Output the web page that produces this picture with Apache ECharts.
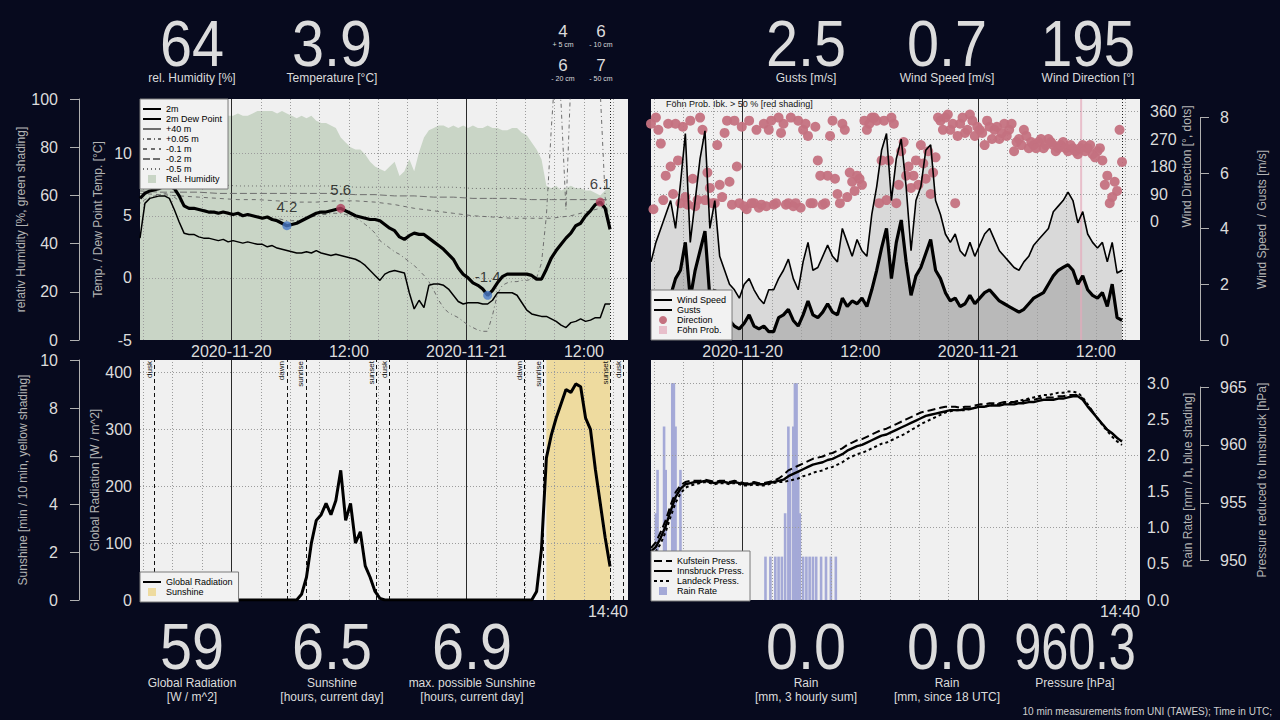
<!DOCTYPE html>
<html>
<head>
<meta charset="utf-8">
<title>Station UNI</title>
<script src="https://cdn.jsdelivr.net/npm/echarts@6.0.0/dist/echarts.min.js"></script>
<style>
html,body{margin:0;padding:0;background:#070a1e;overflow:hidden;}
#chart{width:1280px;height:720px;}
</style>
</head>
<body>
<div id="chart"></div>
<script>
// ---------------- DATA (30 min steps from 2020-11-19 14:40 UTC) ----------------
const startTime = Date.UTC(2020, 10, 19, 14, 40);
const stepMinutes = 30;
const soilStepMinutes = 120;

const temp2m = [6.4,6.8,7.0,7.1,7.2,7.4,7.4,7.2,6.6,5.8,
 5.6,5.6,5.5,5.4,5.3,5.3,5.2,5.3,5.2,5.1,
 5.2,5.0,5.1,5.0,4.9,4.8,4.9,4.7,4.6,4.4,
 4.2,4.3,4.4,4.6,4.8,5.0,5.2,5.3,5.3,5.4,
 5.5,5.6,5.4,5.2,5.0,4.9,4.8,4.7,4.7,4.6,
 4.3,4.0,3.8,3.3,3.1,3.4,3.6,3.5,3.5,3.2,
 2.9,2.6,2.3,1.9,1.5,0.8,0.3,0.0,-0.4,-0.6,
 -0.9,-1.4,-1.0,-0.4,0.1,0.3,0.3,0.3,0.3,0.3,
 0.2,-0.1,-0.1,0.7,1.6,2.2,2.7,3.2,3.6,4.2,
 4.4,5.0,5.4,5.9,6.1,5.6,3.9];

const dewPoint = [3.2,6.0,6.4,6.5,6.6,6.6,6.4,5.5,4.5,3.6,
 3.5,3.5,3.3,3.2,3.2,3.1,3.0,3.1,2.9,3.0,
 2.9,2.8,2.9,2.8,2.7,2.7,2.5,2.6,2.4,2.3,
 2.2,2.1,2.0,2.0,2.1,2.0,2.2,2.0,1.9,1.8,
 1.9,1.8,1.7,1.6,1.5,1.3,1.0,0.6,0.2,-0.2,
 0.3,0.5,0.6,0.5,0.4,-1.2,-2.5,-1.8,-2.4,-0.6,
 -0.5,-0.5,-0.6,-0.9,-1.4,-1.9,-2.1,-2.0,-2.0,-2.0,
 -2.1,-2.1,-1.8,-1.2,-1.2,-1.2,-1.2,-1.4,-2.0,-2.6,
 -2.9,-3.0,-3.1,-3.1,-3.3,-3.5,-3.8,-4.0,-3.6,-3.5,
 -3.3,-3.5,-3.4,-3.2,-3.2,-2.1,-2.1];

const relHumidity = [91,92,92,93,93,93,94,94,93,93,
 94,93,94,93,94,93,93,92,93,93,
 94,93,93,94,95,95,95,95,94,95,
 94,93,92,93,92,93,91,90,90,89,
 88,84,82,80,79,79,77,74,72,71,
 70,72,74,68,70,75,70,78,84,87,
 88,89,89,88,89,88,89,88,89,88,
 88,89,88,88,87,87,88,88,86,85,
 82,79,75,64,63,64,62,63,64,63,
 63,62,62,61,60,62,64];

const tempPlus40m = [];

const tempPlus005m = [6.0,6.3,6.5,6.6,6.7,6.8,6.7,6.5,6.2,5.9,
 5.7,5.6,5.5,5.5,5.4,5.4,5.3,5.3,5.3,5.2,
 5.2,5.1,5.1,5.0,5.0,4.9,4.9,4.8,4.8,4.7,
 4.6,4.6,4.6,4.7,4.8,4.9,5.0,5.1,5.1,5.2,
 5.2,5.2,5.1,5.0,4.8,4.6,4.3,4.0,3.6,3.0,
 2.7,2.4,2.1,1.9,1.6,1.3,1.0,0.6,0.2,-0.3,
 -1.0,-1.8,-2.4,-2.8,-3.0,-3.2,-3.5,-3.8,-4.0,-4.2,
 -4.3,-4.3,-3.0,-1.3,-0.6,-0.4,-0.3,-0.3,-0.2,-0.2,
 -0.1,0.0,1.2,5.0,12.0,18.0,14.0,5.5,16.0,19.0,
 20.0,20.0,19.0,18.0,15.0,6.5,4.2];

// soil temperatures, 2 hourly
const soilMinus010 = [6.8,6.7,6.6,6.5,6.4,6.3,6.3,6.2,6.1,6.1,6.2,6.2,6.1,5.9,5.6,5.4,5.2,5.0,4.9,4.8,4.8,4.8,5.0,5.4,5.8];
const soilMinus020 = [7.0,6.9,6.9,6.9,6.8,6.8,6.8,6.8,6.8,6.8,6.8,6.7,6.7,6.6,6.6,6.5,6.5,6.4,6.4,6.4,6.3,6.3,6.3,6.3,6.3];
const soilMinus050 = [7.5,7.5,7.5,7.5,7.5,7.4,7.4,7.4,7.4,7.4,7.4,7.3,7.3,7.3,7.3,7.3,7.3,7.2,7.2,7.2,7.2,7.2,7.2,7.2,7.2];

const windSpeed = [1.4,1.3,1.2,1.4,1.6,2.2,2.5,3.5,1.5,2.5,
 3.2,3.9,1.5,1.8,1.1,0.9,0.7,0.5,0.4,0.6,
 0.9,0.5,0.4,0.5,0.3,0.3,0.8,0.9,1.1,0.7,
 0.5,0.9,1.4,0.9,0.8,1.0,1.3,1.0,0.9,1.5,
 1.2,1.4,1.3,1.5,1.2,1.8,2.5,3.3,4.0,2.2,
 3.5,4.3,2.8,1.6,2.3,2.6,3.1,3.6,2.5,2.2,
 1.7,1.4,1.5,1.2,1.3,1.6,1.3,1.5,1.7,1.8,
 1.6,1.4,1.3,1.2,1.1,1.0,1.1,1.3,1.5,1.6,
 1.7,2.0,2.3,2.5,2.6,2.7,2.5,2.0,2.3,1.8,
 1.6,1.5,1.7,1.2,2.0,0.8,0.7];

const windGusts = [2.8,3.5,4.0,4.5,5.0,4.0,5.6,7.4,3.5,5.0,
 6.5,7.5,4.0,5.0,3.0,2.5,2.0,1.8,1.5,2.0,
 2.2,1.8,1.5,1.3,1.8,1.8,2.2,2.5,2.9,2.2,
 1.8,2.8,3.5,2.5,2.6,3.0,3.4,3.0,2.8,4.0,
 3.5,3.0,3.6,3.2,3.0,4.5,5.5,6.8,7.4,5.0,
 6.5,7.2,5.5,3.2,5.0,5.5,6.8,7.0,5.0,4.5,
 3.8,3.5,3.8,3.2,3.0,3.5,3.0,3.4,3.8,4.0,
 3.6,3.2,3.0,2.8,2.6,2.5,2.8,3.0,3.4,3.6,
 3.8,4.0,4.6,4.8,5.0,5.3,5.0,4.2,4.6,3.8,
 3.5,3.3,3.5,2.8,3.5,2.4,2.5];

// wind direction at the full steps and at the steps shifted by 15 min
const windDirection = [320,340,255,150,180,320,60,80,330,50,
 340,70,110,60,120,290,130,330,60,50,
 330,60,45,320,300,55,340,320,60,50,
 330,300,280,60,200,55,150,330,90,320,
 80,130,150,120,300,340,330,200,70,340,
 60,230,150,110,200,250,140,90,210,330,
 340,300,60,320,290,350,280,300,250,310,
 300,270,320,300,230,270,300,240,250,260,
 240,270,250,240,260,230,240,220,250,240,
 220,230,200,150,80,100,195];
const windDirectionMid = [40,300,70,320,90,200,310,55,140,70,
 300,160,60,250,80,330,55,180,310,40,
 60,300,55,50,330,60,290,55,340,60,
 45,320,60,310,150,60,280,140,60,300,
 160,100,140,330,320,340,60,330,200,320,
 120,260,180,150,120,190,230,160,340,300,
 350,320,280,340,300,330,310,290,330,270,
 310,290,280,320,260,250,280,260,240,270,
 250,260,230,250,240,250,230,240,230,250,
 210,240,120,60,130,300];

const foehnTimes = ['2020-11-21T10:30Z'];
const foehnProb = [0.62];

const globalRadiation = [0,0,0,0,0,0,0,0,0,0,
 0,0,0,0,0,0,0,0,0,0,
 0,0,0,0,0,0,0,0,0,0,
 0,0,0,10,40,100,140,150,170,150,
 175,228,140,170,100,120,60,40,15,3,
 0,0,0,0,0,0,0,0,0,0,
 0,0,0,0,0,0,0,0,0,0,
 0,0,0,0,0,0,0,0,0,0,
 0,15,90,250,290,320,345,370,365,380,
 375,320,300,230,170,110,59];

const sunshine = [0,0,0,0,0,0,0,0,0,0,
 0,0,0,0,0,0,0,0,0,0,
 0,0,0,0,0,0,0,0,0,0,
 0,0,0,0,0,0,0,0,0,0,
 0,0,0,0,0,0,0,0,0,0,
 0,0,0,0,0,0,0,0,0,0,
 0,0,0,0,0,0,0,0,0,0,
 0,0,0,0,0,0,0,0,0,0,
 0,0,0,10,10,10,10,10,10,10,
 10,10,10,10,10,10,10];

const sunEventNames = ['dusk','dawn','sunrise','sunset','dusk','dawn','sunrise','sunset','dusk'];
const sunEventTimes = ['2020-11-19T16:06Z','2020-11-20T05:40Z','2020-11-20T07:37Z','2020-11-20T14:46Z','2020-11-20T16:06Z',
 '2020-11-21T05:53Z','2020-11-21T07:50Z','2020-11-21T14:42Z','2020-11-21T16:00Z'];

const rainTimes = ['2020-11-19T15:10Z','2020-11-19T15:20Z','2020-11-19T16:00Z','2020-11-19T16:10Z','2020-11-19T16:50Z',
 '2020-11-19T17:00Z','2020-11-19T17:10Z','2020-11-19T17:40Z','2020-11-19T17:50Z','2020-11-20T00:30Z',
 '2020-11-20T02:20Z','2020-11-20T02:50Z','2020-11-20T03:20Z','2020-11-20T03:40Z','2020-11-20T04:00Z',
 '2020-11-20T04:20Z','2020-11-20T04:40Z','2020-11-20T04:50Z','2020-11-20T05:10Z','2020-11-20T05:20Z',
 '2020-11-20T05:30Z','2020-11-20T05:40Z','2020-11-20T05:50Z','2020-11-20T06:10Z','2020-11-20T06:30Z',
 '2020-11-20T06:50Z','2020-11-20T07:10Z','2020-11-20T07:30Z','2020-11-20T08:00Z','2020-11-20T08:30Z',
 '2020-11-20T09:00Z','2020-11-20T09:30Z'];
const rainRate = [1.2,1.8,2.4,1.8,3.0, 3.0,2.4,1.8,0.6,0.6,
 0.6,0.6,0.6,0.6,0.6, 1.2,2.4,1.8,2.4,3.0,
 3.0,1.8,1.2,0.6,0.6, 0.6,0.6,0.6,0.6,0.6,
 0.6,0.6];

const pressInnsbruck = [950.8,951.2,952.0,953.0,954.3,955.5,956.2,956.6,956.7,956.8,956.8,
 956.9,956.8,956.7,956.8,956.8,956.7,956.8,956.7,956.6,956.6,956.7,956.6,956.6,956.7,956.8,956.9,
 957.0,957.3,957.5,957.7,957.9,958.1,958.3,958.4,958.5,958.7,958.8,959.0,959.2,959.5,959.7,959.9,
 960.0,960.2,960.4,960.6,960.8,960.9,961.1,961.3,961.5,961.7,961.9,962.1,962.3,962.5,962.6,962.7,962.8,962.9,
 963.0,963.0,963.0,963.1,963.1,963.2,963.3,963.3,963.4,963.4,963.4,963.5,963.5,963.5,963.6,963.6,963.7,963.7,963.8,963.9,963.9,963.9,
 964.0,964.0,964.1,964.2,964.2,963.9,963.3,962.8,962.3,961.8,961.3,961.0,960.6,960.3];
const pressKufstein = [951.1,951.6,952.5,953.5,954.8,955.9,956.5,956.8,956.9,956.9,956.9,
 957.0,956.9,956.8,956.9,956.9,956.8,956.9,956.8,956.7,956.7,956.8,956.7,956.7,956.8,956.9,957.1,
 957.4,957.8,958.0,958.2,958.4,958.6,958.8,958.9,959.0,959.2,959.3,959.5,959.7,960.0,960.2,960.4,
 960.5,960.7,960.9,961.1,961.3,961.4,961.6,961.8,962.0,962.2,962.4,962.6,962.8,962.9,963.0,963.1,963.2,963.3,
 963.3,963.3,963.2,963.3,963.3,963.4,963.5,963.5,963.6,963.6,963.6,963.7,963.7,963.7,963.8,963.8,963.9,963.9,964.0,964.1,964.1,964.1,
 964.2,964.2,964.3,964.3,964.3,964.0,963.4,962.9,962.3,961.8,961.3,961.0,960.6,960.4];
const pressLandeck = [950.4,950.8,951.5,952.5,953.8,955.0,955.8,956.3,956.5,956.6,956.7,
 956.8,956.7,956.6,956.7,956.7,956.6,956.7,956.6,956.5,956.5,956.6,956.5,956.5,956.6,956.7,956.8,
 956.8,956.9,957.0,957.1,957.3,957.4,957.6,957.7,957.8,958.0,958.1,958.3,958.5,958.8,959.0,959.2,
 959.3,959.5,959.7,959.9,960.1,960.2,960.4,960.6,960.8,961.0,961.3,961.5,961.8,962.0,962.2,962.4,962.6,962.8,
 962.9,963.0,963.0,963.0,963.1,963.2,963.3,963.3,963.4,963.5,963.5,963.6,963.6,963.7,963.8,963.9,964.0,964.1,964.2,964.3,964.3,964.4,
 964.5,964.5,964.6,964.6,964.5,964.1,963.5,962.9,962.3,961.7,961.2,960.7,960.3,960.0];

// windows for the marked night minimum / day maximum of 2 m temperature
const extremeFrom = ['2020-11-19T18:00Z','2020-11-20T06:00Z','2020-11-20T18:00Z','2020-11-21T06:00Z'];
const extremeTo   = ['2020-11-20T06:00Z','2020-11-20T18:00Z','2020-11-21T06:00Z','2020-11-21T18:00Z'];
const extremeKind = ['min','max','min','max'];

// header values: [value, label, centre x, horizontal squeeze]
const headerTop = [['64','rel. Humidity [%]',192,0.9],['3.9','Temperature [°C]',332,0.9],['2.5','Gusts [m/s]',806,0.9],['0.7','Wind Speed [m/s]',947,0.9],['195','Wind Direction [°]',1088,0.88]];
// soil: [value, depth label, centre x, centre y of value]
const soilHeader = [['4','+ 5 cm',563,31],['6','- 10 cm',601,31],['6','- 20 cm',563,65],['7','- 50 cm',601,65]];
const headerBottom = [['59','Global Radiation','[W / m^2]',192,0.9],['6.5','Sunshine','[hours, current day]',332,0.9],['6.9','max. possible Sunshine','[hours, current day]',472,0.9],
 ['0.0','Rain','[mm, 3 hourly sum]',806,0.9],['0.0','Rain','[mm, since 18 UTC]',947,0.9],['960.3','Pressure [hPa]','',1075,0.76]];

// ---------------- HELPERS ----------------
const xMin = Date.UTC(2020, 10, 19, 14, 40);
const xMax = Date.UTC(2020, 10, 21, 16, 30);
const nowTime = Date.UTC(2020, 10, 21, 14, 40);
const tAt = i => startTime + i * stepMinutes * 60000;
const soilAt = i => startTime + i * soilStepMinutes * 60000;
const pairs = arr => arr.map((v, i) => [tAt(i), v]);
const midPairs = arr => arr.map((v, i) => [tAt(i + 0.5), v]);
const soilPairs = arr => arr.map((v, i) => [soilAt(i), v]);

const gridTimes = [];
for (let t = Date.UTC(2020,10,19,15); t < xMax; t += 3*3600000) gridTimes.push(t);
const midnights = [Date.UTC(2020,10,20), Date.UTC(2020,10,21)];
const labelTimes = [Date.UTC(2020,10,20,0), Date.UTC(2020,10,20,12), Date.UTC(2020,10,21,0), Date.UTC(2020,10,21,12)];

const FONT = "'Liberation Sans', Arial, Helvetica, sans-serif";
const LIGHT = '#dcdcdc';
const NAMEC = '#b4b4b4';
const AXC = '#b0b0b0';
const PLOTBG = '#f0f0f0';

function fmtTime(v) {
  const d = new Date(v);
  const hh = d.getUTCHours(), mm = d.getUTCMinutes();
  if (hh === 0 && mm === 0) return d.toISOString().slice(0, 10);
  return String(hh).padStart(2, '0') + ':' + String(mm).padStart(2, '0');
}

function xAx(gi, showLabels, hidden) {
  return {
    type: 'value', gridIndex: gi, min: xMin, max: xMax, show: !hidden,
    axisLine: {show: false}, axisTick: {show: false}, splitLine: {show: false},
    axisLabel: {show: showLabels, customValues: labelTimes, formatter: fmtTime, color: LIGHT, fontSize: 16, margin: 3, fontFamily: FONT}
  };
}

function gridLineSeries(xi, yi, withEvents, withNow) {
  const lines = [];
  gridTimes.forEach(t => {
    if (midnights.indexOf(t) < 0) lines.push({xAxis: t, lineStyle: {color: '#9c9c9c', type: [1, 2], width: 1}});
  });
  midnights.forEach(t => lines.push({xAxis: t, lineStyle: {color: '#2a2a2a', type: 'solid', width: 1}}));
  if (withNow) lines.push({xAxis: nowTime, lineStyle: {color: '#222', type: [1, 2], width: 1}});
  if (withEvents) {
    sunEventTimes.forEach((s, k) => lines.push({
      name: sunEventNames[k], xAxis: Date.parse(s),
      lineStyle: {color: '#111', type: [4, 3], width: 1},
      label: {show: true, formatter: '{b}', position: 'insideEndTop', fontSize: 8, color: '#111', distance: 1, fontFamily: FONT}
    }));
  }
  return {
    type: 'line', xAxisIndex: xi, yAxisIndex: yi, data: [], silent: true, z: 1.5,
    markLine: {symbol: ['none', 'none'], silent: true, animation: false, z: 1.5, label: {show: false}, data: lines}
  };
}

// extremes of 2 m temperature
const extremePoints = [];
extremeFrom.forEach((f, k) => {
  const a = Date.parse(f), b = Date.parse(extremeTo[k]);
  let best = -1;
  temp2m.forEach((v, i) => {
    const t = tAt(i);
    if (t < a || t >= b) return;
    if (best < 0 || (extremeKind[k] === 'min' ? v < temp2m[best] : v > temp2m[best])) best = i;
  });
  if (best >= 0) extremePoints.push({
    value: [tAt(best), temp2m[best]],
    itemStyle: {color: extremeKind[k] === 'min' ? '#4a7bc8' : '#b2405e'}
  });
});

const foehnData = foehnTimes.map((s, k) => [Date.parse(s), foehnProb[k] > 0.5 ? 1 : 0]);
const rainData = rainTimes.map((s, k) => [Date.parse(s), rainRate[k]]);
const SQUARE = 'path://M0,0L10,0L10,10L0,10Z';
const solidIcon = name => ({name: name, icon: SQUARE, itemStyle: {opacity: 1}});

function legendBox(left, top, names) {
  return {
    left: left, top: top, orient: 'vertical', selectedMode: false, data: names,
    itemWidth: 18, itemHeight: 8, itemGap: 0,
    itemStyle: {opacity: 0},
    textStyle: {fontSize: 9, color: '#000', lineHeight: 10, fontFamily: FONT},
    backgroundColor: '#f2f2f2', borderColor: '#7a7a7a', borderWidth: 1, borderRadius: 0,
    padding: [5, 6, 5, 2]
  };
}

// ---------------- GRAPHICS (header / footer texts) ----------------
const graphics = [];
function txt(x, y, text, size, color, align, family, sx) {
  graphics.push({type: 'text', x: x, y: y, silent: true, scaleX: sx || 1,
    style: {text: text, fill: color, fontSize: size, fontFamily: family || FONT, textAlign: align || 'center', textVerticalAlign: 'middle'}});
}
headerTop.forEach(h => { txt(h[2], 44, h[0], 64, LIGHT, 'center', FONT, h[3]); txt(h[2], 78, h[1], 12, LIGHT); });
soilHeader.forEach(h => { txt(h[2], h[3], h[0], 17, LIGHT); txt(h[2], h[3] + 13.5, h[1], 7, LIGHT); });
headerBottom.forEach(h => { txt(h[3], 647, h[0], 64, LIGHT, 'center', FONT, h[4]); txt(h[3], 683, h[1], 12, LIGHT); if (h[2]) txt(h[3], 697, h[2], 12, LIGHT); });
txt(628, 611, fmtTime(nowTime), 16, LIGHT, 'right');
txt(1140, 611, fmtTime(nowTime), 16, LIGHT, 'right');
txt(1272, 711, '10 min measurements from UNI (TAWES); Time in UTC;', 10, '#cfcfcf', 'right');
txt(666, 104, 'Föhn Prob. Ibk. > 50 % [red shading]', 9, '#111', 'left');

// ---------------- OPTION ----------------
const nameStyle = {color: NAMEC, fontSize: 12, fontFamily: FONT};
const labStyle = (m, extra) => Object.assign({color: LIGHT, fontSize: 16, fontFamily: FONT, margin: m}, extra || {});
const dotted = {lineStyle: {color: '#9c9c9c', type: [1, 2], width: 1}};

const option = {
  animation: false,
  backgroundColor: '#070a1e',
  textStyle: {fontFamily: FONT},
  grid: [
    {left: 140, top: 99, width: 488, height: 241, show: true, backgroundColor: PLOTBG, borderWidth: 0},
    {left: 651, top: 99, width: 489, height: 241, show: true, backgroundColor: PLOTBG, borderWidth: 0},
    {left: 140, top: 360, width: 488, height: 240, show: true, backgroundColor: PLOTBG, borderWidth: 0},
    {left: 651, top: 360, width: 489, height: 240, show: true, backgroundColor: PLOTBG, borderWidth: 0},
    {left: 651, top: 117.4, width: 489, height: 222.6, show: false},
    {left: 651, top: 387, width: 489, height: 173.7, show: false},
    {left: 651, top: 111.5, width: 489, height: 110, show: false}
  ],
  xAxis: [xAx(0, true), xAx(1, true), xAx(2, false), xAx(3, false), xAx(4, false, true), xAx(5, false, true), xAx(6, false, true)],
  yAxis: [
    {type: 'value', gridIndex: 0, min: -5, max: 14.4, interval: 5, position: 'left', z: 1.5,
     axisLine: {show: false}, axisTick: {show: false}, axisLabel: labStyle(8, {showMaxLabel: false}),
     splitLine: Object.assign({show: true, showMinLine: false, showMaxLine: false}, dotted),
     name: 'Temp. / Dew Point Temp. [°C]', nameLocation: 'middle', nameRotate: 90, nameGap: 36, nameTextStyle: nameStyle},
    {type: 'value', gridIndex: 0, min: 0, max: 100, interval: 20, position: 'left', offset: 61,
     axisLine: {show: true, lineStyle: {color: AXC, width: 1}}, axisTick: {show: true, length: 9, lineStyle: {color: AXC}},
     axisLabel: labStyle(21), splitLine: {show: false},
     name: 'relativ Humidity [%, green shading]', nameLocation: 'middle', nameRotate: 90, nameGap: 50, nameTextStyle: nameStyle},
    {type: 'value', gridIndex: 1, min: 0, max: 8.64, position: 'right', offset: 60,
     axisLine: {show: false}, axisTick: {show: false}, axisLabel: {show: false}, splitLine: {show: false},
     name: 'Wind Speed  / Gusts [m/s]', nameLocation: 'middle', nameRotate: 90, nameGap: 56, nameTextStyle: nameStyle},
    {type: 'value', gridIndex: 1, min: 0, max: 1, show: false},
    {type: 'value', gridIndex: 4, min: 0, max: 8, interval: 2, position: 'right', offset: 60,
     axisLine: {show: true, lineStyle: {color: AXC, width: 1}}, axisTick: {show: true, length: 9, lineStyle: {color: AXC}},
     axisLabel: labStyle(20), splitLine: {show: false}},
    {type: 'value', gridIndex: 6, min: 0, max: 360, interval: 90, position: 'right', z: 1.5,
     axisLine: {show: false}, axisTick: {show: false}, axisLabel: labStyle(10),
     splitLine: Object.assign({show: true}, dotted),
     name: 'Wind Direction [°, dots]', nameLocation: 'middle', nameRotate: 90, nameGap: 41, nameTextStyle: nameStyle},
    {type: 'value', gridIndex: 2, min: 0, max: 422, interval: 100, position: 'left', z: 1.5,
     axisLine: {show: false}, axisTick: {show: false}, axisLabel: labStyle(8, {showMaxLabel: false}),
     splitLine: Object.assign({show: true, showMinLine: false, showMaxLine: false}, dotted),
     name: 'Global Radiation [W / m^2]', nameLocation: 'middle', nameRotate: 90, nameGap: 36, nameTextStyle: nameStyle},
    {type: 'value', gridIndex: 2, min: 0, max: 10, interval: 2, position: 'left', offset: 61,
     axisLine: {show: true, lineStyle: {color: AXC, width: 1}}, axisTick: {show: true, length: 9, lineStyle: {color: AXC}},
     axisLabel: labStyle(21), splitLine: {show: false},
     name: 'Sunshine [min / 10 min, yellow shading]', nameLocation: 'middle', nameRotate: 90, nameGap: 50, nameTextStyle: nameStyle},
    {type: 'value', gridIndex: 3, min: 0, max: 3.32, interval: 0.5, position: 'right',
     axisLine: {show: false}, axisTick: {show: false},
     axisLabel: labStyle(7, {showMaxLabel: false, formatter: v => v.toFixed(1)}), splitLine: {show: false},
     name: 'Rain Rate [mm / h, blue shading]', nameLocation: 'middle', nameRotate: 90, nameGap: 42, nameTextStyle: nameStyle},
    {type: 'value', gridIndex: 3, min: 946.61, max: 967.33, position: 'right', offset: 60,
     axisLine: {show: false}, axisTick: {show: false}, axisLabel: {show: false}, splitLine: {show: false},
     name: 'Pressure reduced to Innsbruck [hPa]', nameLocation: 'middle', nameRotate: 90, nameGap: 56, nameTextStyle: nameStyle},
    {type: 'value', gridIndex: 5, min: 950, max: 965, interval: 5, position: 'right', offset: 60,
     axisLine: {show: true, lineStyle: {color: AXC, width: 1}}, axisTick: {show: true, length: 9, lineStyle: {color: AXC}},
     axisLabel: labStyle(20), splitLine: {show: false}},
    {type: 'value', gridIndex: 3, min: 0, max: 3.32, interval: 1, position: 'right', z: 1.5,
     axisLine: {show: false}, axisTick: {show: false}, axisLabel: {show: false},
     splitLine: Object.assign({show: true, showMinLine: false, showMaxLine: false}, dotted)}
  ],
  legend: [
    legendBox(140, 99, ['2m', '2m Dew Point', '+40 m', '+0.05 m', '-0.1 m', '-0.2 m', '-0.5 m', solidIcon('Rel. Humidity')]),
    legendBox(651, 290, ['Wind Speed', 'Gusts', {name: 'Direction', icon: 'circle', itemStyle: {opacity: 1}}, solidIcon('Föhn Prob.')]),
    legendBox(140, 572, ['Global Radiation', solidIcon('Sunshine')]),
    legendBox(651, 551, ['Kufstein Press.', 'Innsbruck Press.', 'Landeck Press.', solidIcon('Rain Rate')])
  ],
  graphic: graphics,
  series: [
    {name: 'Rel. Humidity', type: 'line', xAxisIndex: 0, yAxisIndex: 1, data: pairs(relHumidity), symbol: 'none', silent: true, z: 1,
     lineStyle: {width: 0}, itemStyle: {color: '#c9d5c6'}, areaStyle: {color: '#c9d5c6', opacity: 1}},
    gridLineSeries(0, 0, false, true),
    {name: '-0.5 m', type: 'line', xAxisIndex: 0, yAxisIndex: 0, data: soilPairs(soilMinus050), symbol: 'none', z: 2,
     lineStyle: {color: '#6e6e6e', width: 1, type: [1, 3]}, itemStyle: {color: '#6e6e6e'}},
    {name: '-0.2 m', type: 'line', xAxisIndex: 0, yAxisIndex: 0, data: soilPairs(soilMinus020), symbol: 'none', z: 2,
     lineStyle: {color: '#6e6e6e', width: 1, type: [7, 3]}, itemStyle: {color: '#6e6e6e'}},
    {name: '-0.1 m', type: 'line', xAxisIndex: 0, yAxisIndex: 0, data: soilPairs(soilMinus010), symbol: 'none', z: 2,
     lineStyle: {color: '#6e6e6e', width: 1, type: [4, 4]}, itemStyle: {color: '#6e6e6e'}},
    {name: '+0.05 m', type: 'line', xAxisIndex: 0, yAxisIndex: 0, data: pairs(tempPlus005m), symbol: 'none', z: 2,
     lineStyle: {color: '#6e6e6e', width: 1, type: [1, 3, 4, 3]}, itemStyle: {color: '#6e6e6e'}},
    {name: '+40 m', type: 'line', xAxisIndex: 0, yAxisIndex: 0, data: pairs(tempPlus40m), symbol: 'none', z: 2,
     lineStyle: {color: '#6e6e6e', width: 1}, itemStyle: {color: '#6e6e6e'}},
    {name: '2m Dew Point', type: 'line', xAxisIndex: 0, yAxisIndex: 0, data: pairs(dewPoint), symbol: 'none', z: 3,
     lineStyle: {color: '#000', width: 1.5}, itemStyle: {color: '#000'}},
    {name: '2m', type: 'line', xAxisIndex: 0, yAxisIndex: 0, data: pairs(temp2m), symbol: 'none', z: 3,
     lineStyle: {color: '#000', width: 3.2}, itemStyle: {color: '#000'}},
    {name: 'extremes', type: 'scatter', xAxisIndex: 0, yAxisIndex: 0, data: extremePoints, symbolSize: 9, z: 4, silent: true,
     label: {show: true, position: 'top', distance: 7, fontSize: 15, color: '#111', fontFamily: FONT, formatter: p => p.value[1].toFixed(1)}},
    {name: 'gustArea', type: 'line', xAxisIndex: 1, yAxisIndex: 2, data: pairs(windGusts), symbol: 'none', silent: true, z: 1,
     lineStyle: {width: 0}, areaStyle: {color: '#d9d9d9', opacity: 1}},
    {name: 'speedArea', type: 'line', xAxisIndex: 1, yAxisIndex: 2, data: pairs(windSpeed), symbol: 'none', silent: true, z: 1,
     lineStyle: {width: 0}, areaStyle: {color: '#b9b9b9', opacity: 1}},
    {name: 'Föhn Prob.', type: 'bar', xAxisIndex: 1, yAxisIndex: 3, data: foehnData, barWidth: 2, z: 1,
     itemStyle: {color: 'rgba(228,170,186,0.7)'}},
    gridLineSeries(1, 2, false, true),
    {name: 'Direction', type: 'scatter', xAxisIndex: 6, yAxisIndex: 5, data: pairs(windDirection).concat(midPairs(windDirectionMid)), symbolSize: 10, z: 2, clip: false,
     itemStyle: {color: '#c4717f', opacity: 0.95}},
    {name: 'Gusts', type: 'line', xAxisIndex: 1, yAxisIndex: 2, data: pairs(windGusts), symbol: 'none', z: 3,
     lineStyle: {color: '#000', width: 1.6}, itemStyle: {color: '#000'}},
    {name: 'Wind Speed', type: 'line', xAxisIndex: 1, yAxisIndex: 2, data: pairs(windSpeed), symbol: 'none', z: 3,
     lineStyle: {color: '#000', width: 3.2}, itemStyle: {color: '#000'}},
    {name: 'Sunshine', type: 'line', step: 'end', xAxisIndex: 2, yAxisIndex: 7, data: pairs(sunshine), symbol: 'none', silent: true, z: 1,
     lineStyle: {width: 0}, itemStyle: {color: '#eedb9f'}, areaStyle: {color: '#eedb9f', opacity: 1}},
    gridLineSeries(2, 6, true, false),
    {name: 'Global Radiation', type: 'line', xAxisIndex: 2, yAxisIndex: 6, data: pairs(globalRadiation), symbol: 'none', z: 3,
     lineStyle: {color: '#000', width: 3}, itemStyle: {color: '#000'}},
    {name: 'Rain Rate', type: 'bar', xAxisIndex: 3, yAxisIndex: 8, data: rainData, barWidth: 2.6, z: 1,
     itemStyle: {color: '#a4a9d7'}},
    gridLineSeries(3, 8, false, false),
    {name: 'Kufstein Press.', type: 'line', xAxisIndex: 3, yAxisIndex: 9, data: pairs(pressKufstein), symbol: 'none', z: 3,
     lineStyle: {color: '#000', width: 2, type: [8, 4]}, itemStyle: {color: '#000'}},
    {name: 'Innsbruck Press.', type: 'line', xAxisIndex: 3, yAxisIndex: 9, data: pairs(pressInnsbruck), symbol: 'none', z: 3,
     lineStyle: {color: '#000', width: 2.4}, itemStyle: {color: '#000'}},
    {name: 'Landeck Press.', type: 'line', xAxisIndex: 3, yAxisIndex: 9, data: pairs(pressLandeck), symbol: 'none', z: 3,
     lineStyle: {color: '#000', width: 2, type: [3, 3]}, itemStyle: {color: '#000'}}
  ]
};

const chart = echarts.init(document.getElementById('chart'), null, {renderer: 'svg', width: 1280, height: 720});
chart.setOption(option);
</script>
</body>
</html>
